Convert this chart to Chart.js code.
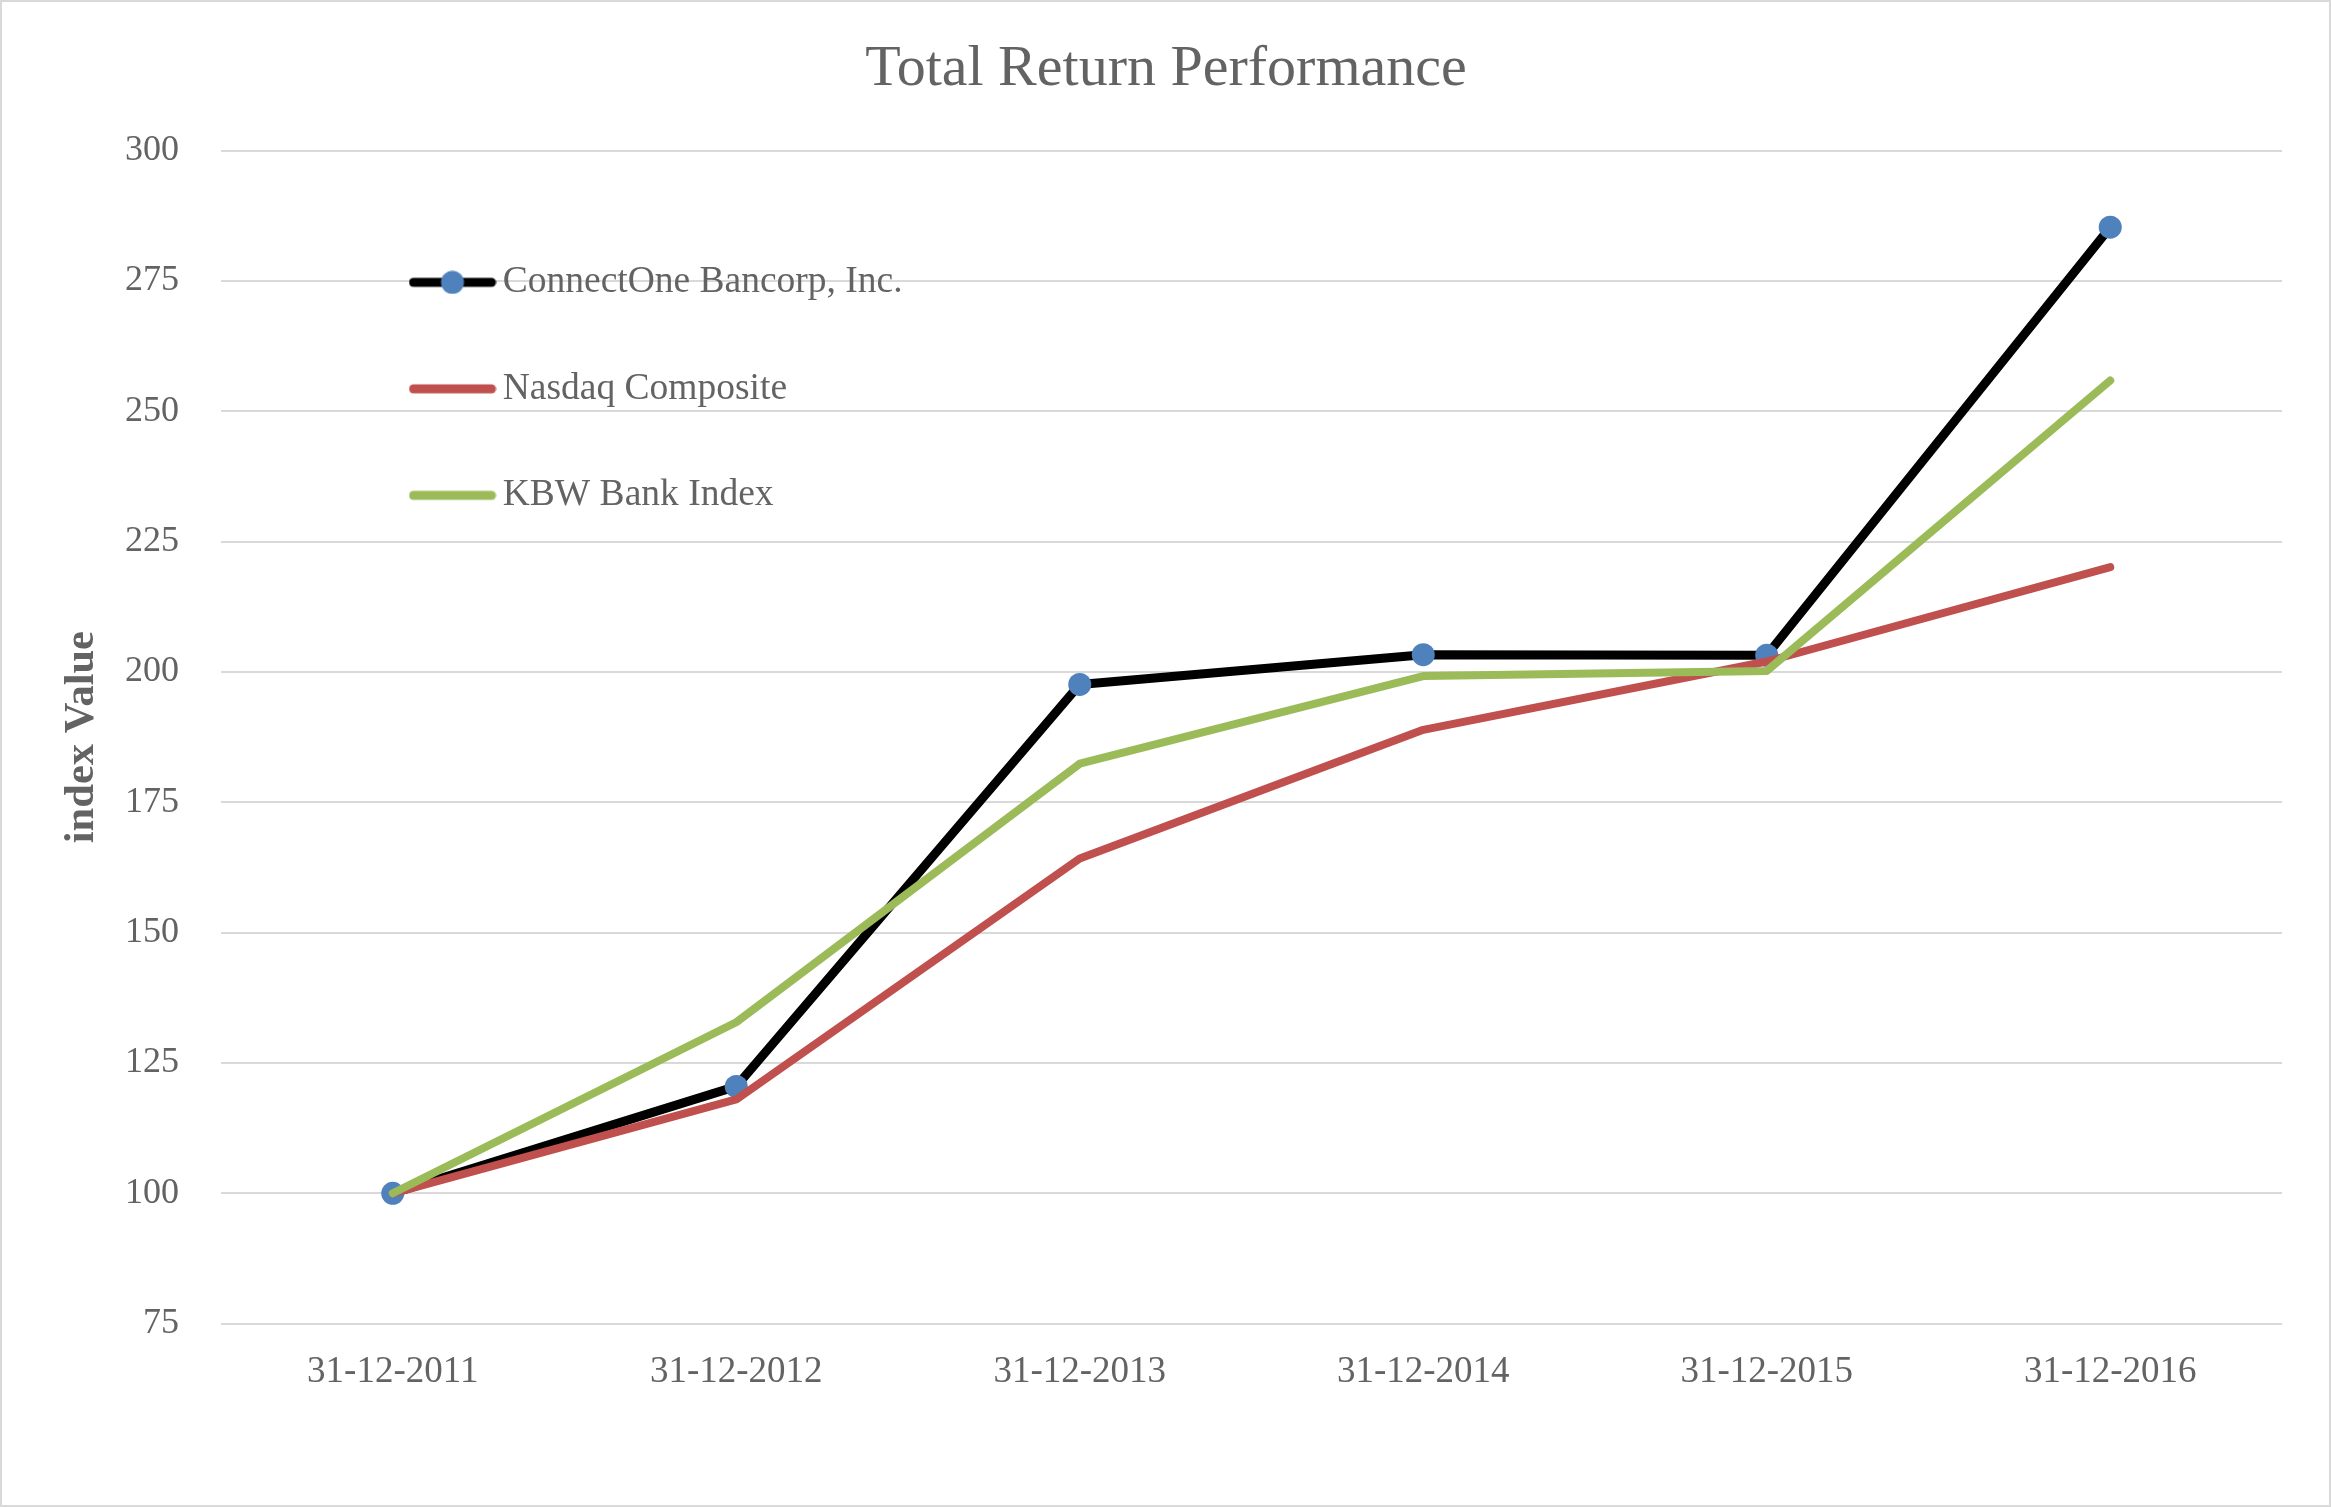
<!DOCTYPE html>
<html>
<head>
<meta charset="utf-8">
<title>Total Return Performance</title>
<script src="https://cdn.jsdelivr.net/npm/chart.js@4.4.1/dist/chart.umd.min.js"></script>
<style>
  html, body { margin: 0; padding: 0; background: #fff; }
  #wrap {
    width: 2331px;
    height: 1507px;
    box-sizing: border-box;
    border: 2px solid #d9d9d9;
  }
</style>
</head>
<body>
<div id="wrap"><canvas id="myChart"></canvas></div>
<script>
// values
const dates = ["31-12-2011", "31-12-2012", "31-12-2013", "31-12-2014", "31-12-2015", "31-12-2016"];
const connectOne = [100, 120.5, 197.6, 203.3, 203.2, 285.3];
const nasdaq = [100, 118.0, 164.2, 188.9, 202.0, 220.1];
const kbw = [100, 132.8, 182.4, 199.2, 200.2, 255.9];
const yMin = 75;
const yMax = 300;
const yStep = 25;

const textGrey = "#636363";
const serif = "'Liberation Serif', 'Times New Roman', serif";

document.addEventListener("DOMContentLoaded", chart);

// small canvas used as legend sample: a thick line, optional dot in the middle
function legendSample(lineColor, dotColor) {
  const c = document.createElement("canvas");
  c.width = 88;
  c.height = 24;
  const g = c.getContext("2d");
  g.strokeStyle = lineColor;
  g.lineWidth = 9;
  g.lineCap = "round";
  g.beginPath();
  g.moveTo(5, 12);
  g.lineTo(83, 12);
  g.stroke();
  if (dotColor) {
    g.fillStyle = dotColor;
    g.beginPath();
    g.arc(44, 12, 11.5, 0, Math.PI * 2);
    g.fill();
  }
  return c;
}

// legend sits inside the plot, pushed in from the top-left corner
const legendSpot = {
  id: "legendSpot",
  afterLayout(c) {
    const lg = c.legend;
    if (!lg) return;
    lg.left = c.chartArea.left + 131;
    lg.top = c.chartArea.top + 44;
  },
};

function chart() {
  const ctx = document.getElementById("myChart");

  const samples = [
    legendSample("#000000", "#4f81bd"),
    legendSample("#c0504d"),
    legendSample("#9bbb59"),
  ];

  new Chart(ctx, {
    type: "line",
    data: {
      labels: dates,
      datasets: [
        {
          label: "ConnectOne Bancorp, Inc.",
          data: connectOne,
          borderColor: "#000000",
          borderWidth: 9,
          pointRadius: 11.5,
          pointBackgroundColor: "#4f81bd",
          pointBorderWidth: 0,
          order: 3,
        },
        {
          label: "Nasdaq Composite",
          data: nasdaq,
          borderColor: "#c0504d",
          borderWidth: 8,
          pointRadius: 0,
          order: 2,
        },
        {
          label: "KBW Bank Index",
          data: kbw,
          borderColor: "#9bbb59",
          borderWidth: 8,
          pointRadius: 0,
          order: 1,
        },
      ],
    },
    options: {
      responsive: true,
      maintainAspectRatio: false,
      animation: false,
      layout: {
        padding: { top: 8, left: 48, right: 47, bottom: 85 },
      },
      elements: {
        line: { tension: 0, borderCapStyle: "round", borderJoinStyle: "round" },
      },
      plugins: {
        title: {
          display: true,
          text: "Total Return Performance",
          color: textGrey,
          font: { family: serif, size: 58, weight: "normal" },
          padding: { top: 25, bottom: 46 },
        },
        legend: {
          position: "chartArea",
          align: "start",
          labels: {
            usePointStyle: true,
            pointStyleWidth: 63,
            padding: 69,
            color: textGrey,
            font: { family: serif, size: 37.5 },
            // keep the dataset array order, whatever the draw order is
            generateLabels: (c) =>
              c.data.datasets.map((ds, i) => ({
                text: ds.label,
                fillStyle: ds.borderColor,
                strokeStyle: ds.borderColor,
                lineWidth: 0,
                pointStyle: samples[i],
                fontColor: textGrey,
                hidden: !c.isDatasetVisible(i),
                datasetIndex: i,
              })),
          },
        },
        tooltip: { enabled: false },
      },
      scales: {
        x: {
          offset: true,
          grid: { display: false, drawTicks: false },
          border: { display: false },
          ticks: {
            color: textGrey,
            padding: 26,
            maxRotation: 0,
            font: { family: serif, size: 37 },
          },
        },
        y: {
          min: yMin,
          max: yMax,
          grid: { color: "#d9d9d9", lineWidth: 2, drawTicks: false },
          border: { display: false },
          ticks: {
            stepSize: yStep,
            color: textGrey,
            padding: 42,
            font: { family: serif, size: 36 },
          },
          title: {
            display: true,
            text: "index Value",
            color: textGrey,
            font: { family: serif, size: 42.5, weight: "bold" },
            padding: { top: 7, bottom: 17 },
          },
          // chart.js counts the tick padding twice; the labels only need it once
          afterFit: (scale) => {
            scale.width -= 42;
          },
        },
      },
    },
    plugins: [legendSpot],
  });
}
</script>
</body>
</html>
